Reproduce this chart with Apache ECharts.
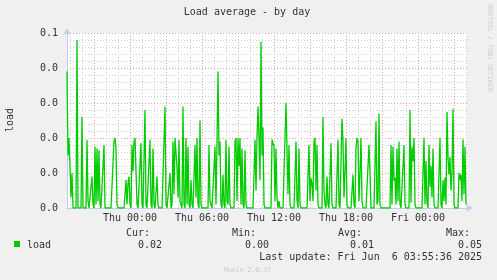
<!DOCTYPE html>
<html>
<head>
<meta charset="utf-8">
<script src="https://cdn.jsdelivr.net/npm/echarts@6/dist/echarts.min.js"></script>
<style>
html,body{margin:0;padding:0;background:#f0f0f0;}
#chart{width:497px;height:280px;}
</style>
</head>
<body>
<div id="chart"></div>
<script>
// Munin "Load average - by day": 5-minute samples, starting Wed 18:45 (minute -315 relative to Thu 00:00)
const startMinute = -315;
const stepMinutes = 5;
const load = [
  0.039,0.015,0.020,0.020,0.003,0.010,0,0,0,0, 0.048,0,0,0,0,0.026,0,0,0,0,
  0.0195,0.002,0,0,0,0.009,0.001,0,0.0175,0.001, 0.017,0.002,0.0165,0.001,0,0,0,0.018,0,0,
  0,0,0,0,0,0,0,0.019,0.020,0.017, 0.001,0,0,0,0,0,0,0,0,0.008,
  0.001,0.007,0.009,0.001,0,0.018,0.0105,0.019,0.020,0.020, 0.001,0,0,0,0.0185,0.001,0,0,0.028,0.001,
  0,0,0,0.0195,0.001,0,0.017,0.001,0,0, 0.009,0.001,0,0,0,0,0,0,0.029,0.001,
  0,0,0,0.010,0,0.001,0.019,0.004,0.020,0.020, 0.0115,0.003,0.0195,0.002,0.001,0,0.029,0.001,0,0.020,
  0.001,0.0175,0.001,0,0.008,0.001,0,0,0.018,0.003, 0.020,0.001,0,0.025,0.001,0,0,0,0,0,
  0,0,0.018,0.002,0.001,0,0,0,0.0175,0.001, 0.019,0.039,0.015,0.019,0.001,0,0.0095,0.001,0,0.0195,
  0.002,0.001,0.0175,0.001,0,0,0,0,0.019,0.020, 0.002,0.020,0.012,0.020,0.001,0.017,0.001,0,0.0165,0.001,
  0,0,0,0,0,0,0,0,0.0195,0.005, 0.020,0.029,0.020,0.008,0.0475,0.015,0.023,0.001,0,0,
  0,0,0,0,0,0.0195,0.020,0.0175,0.002,0.017, 0.003,0,0.002,0,0,0,0,0,0,0.030,
  0.030,0.004,0.018,0.001,0,0,0,0,0,0.019, 0.002,0,0.017,0.001,0,0,0,0,0,0,
  0,0,0.018,0.002,0.0085,0.007,0.002,0.019,0.020,0.005, 0.018,0.001,0,0,0,0,0.026,0.005,0.001,0,
  0.009,0.001,0,0,0.0185,0.001,0,0,0,0, 0,0.0195,0.001,0,0,0.0255,0.019,0.003,0.010,0.020,
  0.001,0,0,0,0,0,0.0095,0.001,0,0.017, 0.020,0.019,0.002,0.010,0.020,0.002,0,0,0,0,
  0,0,0.018,0.010,0,0,0,0,0,0.0247, 0.001,0.002,0.027,0.001,0,0,0,0,0,0,
  0,0,0,0,0.018,0.001,0.0175,0.0077,0.0087,0.001, 0.017,0.002,0.019,0.001,0,0,0,0.018,0.001,0,
  0,0,0,0.028,0.0015,0.0175,0.0134,0.020,0.001,0, 0,0,0,0,0,0,0,0.020,0.001,0.0134,
  0.0015,0,0.018,0.006,0.012,0.003,0.017,0.001,0,0, 0,0,0,0.020,0.001,0,0.008,0.002,0.0087,0.001,
  0.0274,0.0144,0.0096,0.0146,0.005,0.010,0.0283,0.001,0,0, 0,0,0.010,0.008,0.0096,0.002,0.0196,0.004,0.0175,0.001
];
const xTickMinutes = [0, 360, 720, 1080, 1440];
const xTickLabels = ['Thu 00:00', 'Thu 06:00', 'Thu 12:00', 'Thu 18:00', 'Fri 00:00'];
const yTickLabels = ['0.0', '0.0', '0.0', '0.0', '0.0', '0.1'];
const statNames = ['Cur:', 'Min:', 'Avg:', 'Max:'];
const statValues = ['0.02', '0.00', '0.01', '0.05'];
const seriesName = 'load';
const lastUpdate = 'Last update: Fri Jun  6 03:55:36 2025';

const FONT = 'DejaVu Sans Mono';
const TXT = '#333333';
const GREEN = '#00cc00';
const RED = '#f2a0a0';
const GRAY = '#cfcfcf';
const AXIS = '#c8c8f2';

const seriesData = load.map((v, i) => [startMinute + i * stepMinutes, v]);
const xMax = startMinute + load.length * stepMinutes;

// split line colours, cycling every 3h in 15-minute ticks starting at 18:45
const xCycle = [];
for (let k = 0; k < 12; k++) {
  const m = ((startMinute + 15 * k) % 180 + 180) % 180;
  if (m === 0) xCycle.push(RED);
  else if (m % 60 === 0) xCycle.push(GRAY);
  else xCycle.push('rgba(0,0,0,0)');
}

const chart = echarts.init(document.getElementById('chart'), null, {renderer: 'canvas'});
const statX = [150, 256, 362, 470];
const valX = [162, 269, 374, 482];
const graphics = [
  {type: 'text', x: 247, y: 12, style: {text: 'Load average - by day', font: '10px ' + FONT, fill: TXT, textAlign: 'center', textVerticalAlign: 'middle'}},
  {type: 'text', x: 10.5, y: 120, rotation: Math.PI / 2, style: {text: seriesName, font: '10px ' + FONT, fill: TXT, textAlign: 'center', textVerticalAlign: 'middle'}},
  {type: 'text', x: 489.5, y: 48, rotation: -Math.PI / 2, style: {text: 'RRDTOOL / TOBI OETIKER', font: '6.6px ' + FONT, fill: '#cccccc', textAlign: 'center', textVerticalAlign: 'middle'}},
  {type: 'rect', shape: {x: 14, y: 241, width: 6, height: 6}, style: {fill: GREEN}},
  {type: 'text', x: 27, y: 245, style: {text: seriesName, font: '10px ' + FONT, fill: TXT, textAlign: 'left', textVerticalAlign: 'middle'}},
  {type: 'text', x: 482, y: 257, style: {text: lastUpdate, font: '10px ' + FONT, fill: TXT, textAlign: 'right', textVerticalAlign: 'middle'}},
  {type: 'text', x: 247.5, y: 270, style: {text: 'Munin 2.0.37', font: '6.5px ' + FONT, fill: '#c8c8c8', textAlign: 'center', textVerticalAlign: 'middle'}}
];
statNames.forEach((n, i) => {
  graphics.push({type: 'text', x: statX[i], y: 233, style: {text: n, font: '10px ' + FONT, fill: TXT, textAlign: 'right', textVerticalAlign: 'middle'}});
  graphics.push({type: 'text', x: valX[i], y: 245, style: {text: statValues[i], font: '10px ' + FONT, fill: TXT, textAlign: 'right', textVerticalAlign: 'middle'}});
});

chart.setOption({
  backgroundColor: '#f0f0f0',
  animation: false,
  textStyle: {fontFamily: FONT},
  grid: {left: 67, right: 30, top: 33, bottom: 72, show: true, backgroundColor: '#ffffff', borderWidth: 0, containLabel: false, outerBoundsMode: 'none'},
  xAxis: {
    type: 'value',
    min: startMinute,
    max: xMax,
    interval: 15,
    axisLine: {show: true, onZero: false, lineStyle: {color: AXIS, width: 1}, symbol: ['none', 'arrow'], symbolSize: [6, 7], symbolOffset: [0, 6]},
    axisTick: {show: false},
    axisLabel: {
      show: true, margin: 5, color: TXT, fontFamily: FONT, fontSize: 10, interval: 0, hideOverlap: false,
      formatter: function (v) {
        for (let i = 0; i < xTickMinutes.length; i++) {
          if (Math.abs(v - xTickMinutes[i]) < 0.5) return xTickLabels[i];
        }
        return '';
      }
    },
    splitLine: {show: true, showMinLine: true, showMaxLine: true, lineStyle: {color: xCycle, type: [1, 2], width: 1}},
    minorTick: {show: false},
    minorSplitLine: {show: false}
  },
  yAxis: {
    type: 'value',
    min: 0,
    max: 0.05,
    interval: 0.01,
    axisLine: {show: true, onZero: false, lineStyle: {color: AXIS, width: 1}, symbol: ['none', 'arrow'], symbolSize: [6, 7], symbolOffset: [0, 5]},
    axisTick: {show: false},
    axisLabel: {
      show: true, margin: 9, color: TXT, fontFamily: FONT, fontSize: 10,
      formatter: function (v) { return yTickLabels[Math.round(v / 0.01)]; }
    },
    splitLine: {show: true, lineStyle: {color: RED, type: [1, 2], width: 1}},
    minorTick: {show: false, splitNumber: 5},
    minorSplitLine: {show: true, lineStyle: {color: GRAY, type: [1, 2], width: 1}}
  },
  series: [{
    name: seriesName,
    type: 'line',
    data: seriesData,
    showSymbol: false,
    symbol: 'none',
    lineStyle: {color: GREEN, width: 1.3},
    itemStyle: {color: GREEN},
    z: 5
  }],
  graphic: graphics
});
</script>
</body>
</html>
